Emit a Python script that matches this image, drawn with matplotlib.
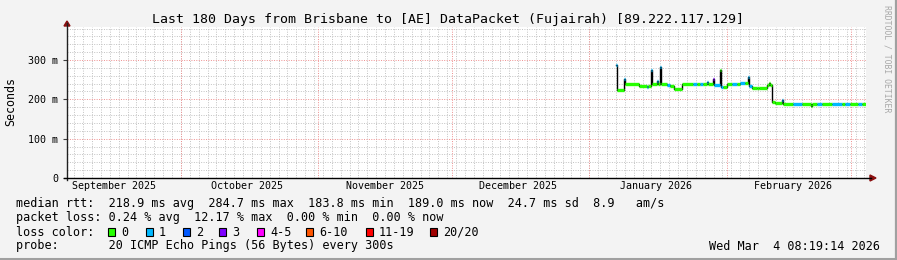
import numpy as np
import matplotlib
matplotlib.use("Agg")
import matplotlib.pyplot as plt
from matplotlib.patches import Polygon, Rectangle
from matplotlib.lines import Line2D
from datetime import datetime

# tempo em dias a partir de 2026-01-01
base = datetime(2026, 1, 1)
t_end = datetime(2026, 3, 4, 8, 19, 14)
t_start = datetime(2025, 9, 5, 8, 19, 14)

# mediana do rtt (ms) em degraus, com a perda em cada degrau
step_day = [6.08, 6.31, 7.77, 8.00, 11.26, 13.06, 13.29, 13.85, 14.19, 15.32,
            15.54, 15.99, 16.22, 17.45, 18.24, 19.14, 20.95, 23.42, 24.32, 25.00,
            25.68, 26.58, 26.80, 27.93, 28.15, 29.50, 29.73, 30.18, 31.08, 32.21,
            33.33, 34.01, 35.14, 35.81, 36.04, 36.71, 37.84, 38.29, 40.09, 40.54,
            40.77, 41.22, 41.89, 43.47, 43.69, 45.95, 47.97, 50.00, 50.23, 51.35,
            52.48, 54.73, 56.98, 57.66, 58.78, 60.59, 61.49]
step_rtt = [287, 224, 252, 239, 235, 231, 235, 275, 239, 247,
            239, 283, 239, 236, 234, 226, 239, 239, 239, 239,
            239, 245, 239, 253, 236, 275, 232, 232, 239, 239,
            239, 241, 241, 258, 234, 228, 230, 228, 236, 241,
            236, 194, 190, 198, 189, 189, 189, 184, 189, 189,
            189, 189, 189, 189, 189, 189, 189]
step_loss = [1, 0, 1, 0, 0, 1, 0, 1, 0, 1,
             0, 1, 0, 1, 0, 0, 0, 1, 0, 1,
             0, 1, 0, 3, 1, 0, 1, 0, 0, 1,
             0, 1, 0, 1, 1, 0, 0, 0, 0, 0,
             0, 0, 0, 1, 0, 1, 0, 0, 0, 1,
             0, 1, 0, 1, 0, 1, 0]

loss_labels = ["0", "1", "2", "3", "4-5", "6-10", "11-19", "20/20"]
loss_colors = ["#26ff00", "#00b8ff", "#0059ff", "#7e00ff", "#ff00ff",
               "#ff5500", "#ff0000", "#a00000"]
loss_index = {0: 0, 1: 1, 2: 2, 3: 3}

med_avg, med_max, med_min, med_now, med_sd, am_s = 218.9, 284.7, 183.8, 189.0, 24.7, 8.9
loss_avg, loss_max, loss_min, loss_now = 0.24, 12.17, 0.00, 0.00

W, H = 897, 260
L, R, T, B = 67, 866, 27, 178
mono = "DejaVu Sans Mono"


def days(d):
    return (d - base).total_seconds() / 86400.0


def px(x, y):
    return (x / W, 1 - y / H)


fig = plt.figure(figsize=(W / 100, H / 100), dpi=100, facecolor="#f3f3f3")
ax = fig.add_axes([L / W, 1 - B / H, (R - L) / W, (B - T) / H])
ax.set_facecolor("white")
x0, x1 = days(t_start), days(t_end)
ax.set_xlim(x0, x1)
ax.set_ylim(0, 384)
for s in ax.spines.values():
    s.set_visible(False)

# grade
months = [datetime(2025, m, 1) for m in range(9, 13)] + [datetime(2026, m, 1) for m in range(1, 4)]
month_x = [days(m) for m in months]
oct1 = days(datetime(2025, 10, 1))
grid_minor = dict(color="#c2c2c2", lw=0.7, ls=(0, (1, 1.5)))
grid_major = dict(color="#ee8f8f", lw=0.7, ls=(0, (1, 1.5)))
for d in oct1 + 2 * np.arange(-20, 80):
    if x0 < d < x1:
        ax.axvline(d, zorder=0, **grid_minor)
for y in range(20, 384, 20):
    if y % 100:
        ax.axhline(y, zorder=0, **grid_minor)
for d in month_x:
    if x0 < d < x1:
        ax.axvline(d, zorder=1, **grid_major)
for y in (100, 200, 300):
    ax.axhline(y, zorder=1, **grid_major)

# eixos
ax.set_yticks([0, 100, 200, 300])
ax.set_yticklabels(["0", "100 m", "200 m", "300 m"])
mid = [days(m) + 15 for m in months[:-1]]
ax.set_xticks(mid)
ax.set_xticklabels([m.strftime("%B %Y") for m in months[:-1]])
ax.tick_params(axis="y", length=3, width=0.8, pad=3.5, labelsize=7.2, color="#404040")
ax.tick_params(axis="x", length=0, pad=2.5, labelsize=7.2)
for lab in ax.get_xticklabels() + ax.get_yticklabels():
    lab.set_family(mono)

# dados
xs = np.array(step_day + [x1])
ys = np.array(step_rtt + [step_rtt[-1]])
ax.step(xs, ys, where="post", color="black", lw=1.0, zorder=3)
for i in range(len(step_day)):
    c = loss_colors[loss_index[step_loss[i]]]
    ax.hlines(step_rtt[i], xs[i], xs[i + 1], colors=c, lw=2.4, zorder=4)

fig.add_artist(Line2D([L / W, L / W], [px(0, B + 2)[1], px(0, T - 4)[1]], color="#202020", lw=1))
fig.add_artist(Line2D([px(L - 3, 0)[0], px(R + 5, 0)[0]], [px(0, B)[1]] * 2, color="black", lw=1))
fig.add_artist(Polygon([px(L - 3, 26), px(L + 3, 26), px(L, 21)], closed=True, color="#8b1010"))
fig.add_artist(Polygon([px(R + 4, B - 3), px(R + 4, B + 3), px(R + 10, B)], closed=True, color="#8b1010"))

# textos
fig.text(448 / W, 1 - 19 / H, "Last 180 Days from Brisbane to [AE] DataPacket (Fujairah) [89.222.117.129]",
         ha="center", va="center", family=mono, fontsize=9.5)
fig.text(11 / W, 1 - 102 / H, "Seconds", rotation=90, ha="center", va="center", family=mono, fontsize=8.4)
fig.text(887 / W, 1 - 59 / H, "RRDTOOL / TOBI OETIKER", rotation=270, ha="center", va="center",
         family=mono, fontsize=5.9, color="#a8a8a8")

fs = 8.5
line1 = (f"median rtt:  {med_avg:.1f} ms avg  {med_max:.1f} ms max  {med_min:.1f} ms min  "
         f"{med_now:.1f} ms now  {med_sd:.1f} ms sd  {am_s:.1f}   am/s")
line2 = (f"packet loss: {loss_avg:.2f} % avg  {loss_max:.2f} % max  {loss_min:.2f} % min  "
         f"{loss_now:.2f} % now")
fig.text(16 / W, 1 - 204 / H, line1, va="center", family=mono, fontsize=fs)
fig.text(16 / W, 1 - 218 / H, line2, va="center", family=mono, fontsize=fs)
fig.text(16 / W, 1 - 232 / H, "loss color:", va="center", family=mono, fontsize=fs)
box_x = [108, 146, 183, 219, 257, 306, 366, 430]
for bx, lab, c in zip(box_x, loss_labels, loss_colors):
    fig.add_artist(Rectangle(px(bx, 236), 7 / W, 8 / H, facecolor=c, edgecolor="black", lw=0.8))
    fig.text((bx + 13) / W, 1 - 232 / H, lab, va="center", family=mono, fontsize=fs)
fig.text(16 / W, 1 - 246 / H, "probe:       20 ICMP Echo Pings (56 Bytes) every 300s",
         va="center", family=mono, fontsize=fs)
fig.text(880 / W, 1 - 246 / H, t_end.strftime("%a %b  %-d %H:%M:%S %Y"), ha="right", va="center",
         family=mono, fontsize=fs)

# moldura
fig.add_artist(Line2D([px(0, 0)[0], px(W, 0)[0]], [px(0, H - 1.5)[1]] * 2, color="#a0a0a0", lw=2.2))
fig.add_artist(Line2D([px(W - 1, 0)[0]] * 2, [px(0, 0)[1], px(0, H)[1]], color="#a0a0a0", lw=1.6))

fig.savefig("out.png", dpi=100, facecolor=fig.get_facecolor())
